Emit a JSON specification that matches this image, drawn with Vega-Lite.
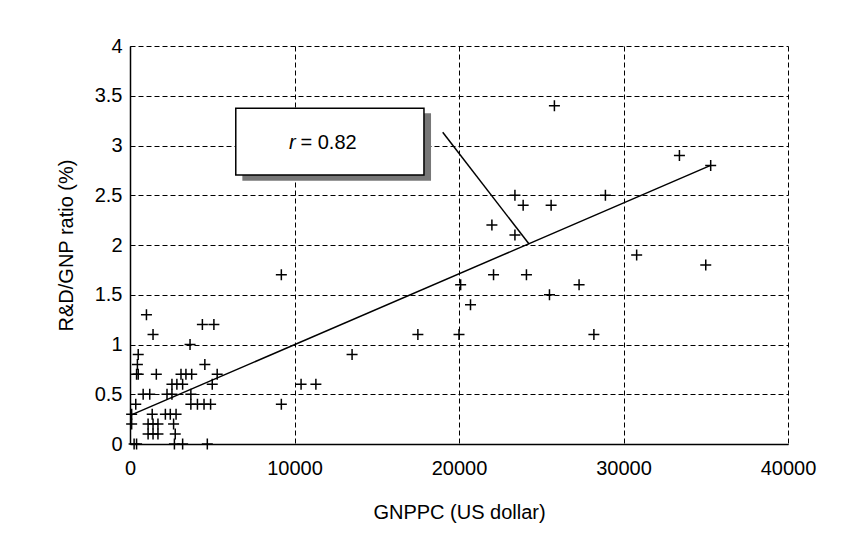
{
  "$schema": "https://vega.github.io/schema/vega-lite/v6.json",
  "width": 658,
  "height": 398,
  "autosize": "none",
  "padding": {"left": 130, "top": 46, "right": 62, "bottom": 116},
  "background": "white",
  "config": {
    "view": {"stroke": null},
    "font": "Liberation Sans",
    "axis": {
      "grid": true,
      "gridColor": "#000",
      "gridDash": [5, 3],
      "gridWidth": 1,
      "gridOpacity": 1,
      "domainColor": "#000",
      "domainWidth": 1.5,
      "ticks": false,
      "labelFlush": false,
      "labelBound": false,
      "labelOverlap": false,
      "labelFontSize": 20,
      "labelColor": "#000",
      "labelFont": "Liberation Sans",
      "titleFontSize": 20,
      "titleFontWeight": "normal",
      "titleColor": "#000",
      "titleFont": "Liberation Sans"
    }
  },
  "datasets": {
    "points": [
      {"gnppc": 25800, "ratio": 3.4}, {"gnppc": 33400, "ratio": 2.9}, {"gnppc": 35300, "ratio": 2.8},
      {"gnppc": 23400, "ratio": 2.5}, {"gnppc": 28900, "ratio": 2.5}, {"gnppc": 23900, "ratio": 2.4},
      {"gnppc": 25600, "ratio": 2.4}, {"gnppc": 22000, "ratio": 2.2}, {"gnppc": 23400, "ratio": 2.1},
      {"gnppc": 30800, "ratio": 1.9}, {"gnppc": 35000, "ratio": 1.8}, {"gnppc": 22100, "ratio": 1.7},
      {"gnppc": 24100, "ratio": 1.7}, {"gnppc": 20100, "ratio": 1.6}, {"gnppc": 27300, "ratio": 1.6},
      {"gnppc": 25500, "ratio": 1.5}, {"gnppc": 20700, "ratio": 1.4}, {"gnppc": 20000, "ratio": 1.1},
      {"gnppc": 28200, "ratio": 1.1}, {"gnppc": 17500, "ratio": 1.1}, {"gnppc": 9200, "ratio": 1.7},
      {"gnppc": 13500, "ratio": 0.9}, {"gnppc": 10400, "ratio": 0.6}, {"gnppc": 11300, "ratio": 0.6},
      {"gnppc": 9200, "ratio": 0.4},
      {"gnppc": 1000, "ratio": 1.3}, {"gnppc": 1400, "ratio": 1.1}, {"gnppc": 4400, "ratio": 1.2},
      {"gnppc": 5100, "ratio": 1.2}, {"gnppc": 3650, "ratio": 1.0}, {"gnppc": 500, "ratio": 0.9},
      {"gnppc": 450, "ratio": 0.8}, {"gnppc": 4550, "ratio": 0.8}, {"gnppc": 400, "ratio": 0.7},
      {"gnppc": 500, "ratio": 0.7}, {"gnppc": 1600, "ratio": 0.7}, {"gnppc": 3100, "ratio": 0.7},
      {"gnppc": 3400, "ratio": 0.7}, {"gnppc": 3750, "ratio": 0.7}, {"gnppc": 5300, "ratio": 0.7},
      {"gnppc": 2550, "ratio": 0.6}, {"gnppc": 2850, "ratio": 0.6}, {"gnppc": 3200, "ratio": 0.6},
      {"gnppc": 5000, "ratio": 0.6}, {"gnppc": 800, "ratio": 0.5}, {"gnppc": 1200, "ratio": 0.5},
      {"gnppc": 2250, "ratio": 0.5}, {"gnppc": 2550, "ratio": 0.5}, {"gnppc": 3700, "ratio": 0.5},
      {"gnppc": 350, "ratio": 0.4}, {"gnppc": 3700, "ratio": 0.4}, {"gnppc": 4100, "ratio": 0.4},
      {"gnppc": 4500, "ratio": 0.4}, {"gnppc": 4900, "ratio": 0.4}, {"gnppc": 100, "ratio": 0.3},
      {"gnppc": 1350, "ratio": 0.3}, {"gnppc": 2150, "ratio": 0.3}, {"gnppc": 2450, "ratio": 0.3},
      {"gnppc": 2800, "ratio": 0.3}, {"gnppc": 100, "ratio": 0.2}, {"gnppc": 1100, "ratio": 0.2},
      {"gnppc": 1400, "ratio": 0.2}, {"gnppc": 1700, "ratio": 0.2}, {"gnppc": 2650, "ratio": 0.2},
      {"gnppc": 1100, "ratio": 0.1}, {"gnppc": 1400, "ratio": 0.1}, {"gnppc": 1700, "ratio": 0.1},
      {"gnppc": 2750, "ratio": 0.1}, {"gnppc": 250, "ratio": 0}, {"gnppc": 400, "ratio": 0},
      {"gnppc": 2700, "ratio": 0}, {"gnppc": 3200, "ratio": 0}, {"gnppc": 4700, "ratio": 0}
    ],
    "fit": [{"gnppc": 50, "ratio": 0.29, "gnppc2": 35300, "ratio2": 2.8}],
    "leader": [{"gnppc": 19010, "ratio": 3.133, "gnppc2": 24270, "ratio2": 2.007}],
    "shadow": [{"gnppc": 6830, "ratio": 3.323, "gnppc2": 18300, "ratio2": 2.646}],
    "box": [{"gnppc": 6430, "ratio": 3.374, "gnppc2": 17870, "ratio2": 2.704}],
    "rlabel": [{"gnppc": 9666, "ratio": 3.03, "label": "r"}],
    "vlabel": [{"gnppc": 10365, "ratio": 3.03, "label": "= 0.82"}]
  },
  "encoding": {
    "x": {
      "field": "gnppc",
      "type": "quantitative",
      "scale": {"domain": [0, 40000], "nice": false, "zero": false},
      "axis": {"values": [0, 10000, 20000, 30000, 40000], "format": "d", "title": "GNPPC (US dollar)", "labelPadding": 14, "titlePadding": 24}
    },
    "y": {
      "field": "ratio",
      "type": "quantitative",
      "scale": {"domain": [0, 4], "nice": false, "zero": false},
      "axis": {"values": [0, 0.5, 1, 1.5, 2, 2.5, 3, 3.5, 4], "format": "~g", "title": "R&D/GNP ratio (%)", "labelPadding": 8, "titlePadding": 18}
    }
  },
  "layer": [
    {
      "data": {"name": "shadow"},
      "mark": {"type": "rect", "fill": "#777777", "clip": false},
      "encoding": {"x2": {"field": "gnppc2"}, "y2": {"field": "ratio2"}}
    },
    {
      "data": {"name": "box"},
      "mark": {"type": "rect", "fill": "white", "stroke": "#000", "strokeWidth": 1.5, "clip": false},
      "encoding": {"x2": {"field": "gnppc2"}, "y2": {"field": "ratio2"}}
    },
    {
      "data": {"name": "fit"},
      "mark": {"type": "rule", "stroke": "#000", "strokeWidth": 1.5},
      "encoding": {"x2": {"field": "gnppc2"}, "y2": {"field": "ratio2"}}
    },
    {
      "data": {"name": "leader"},
      "mark": {"type": "rule", "stroke": "#000", "strokeWidth": 1.5},
      "encoding": {"x2": {"field": "gnppc2"}, "y2": {"field": "ratio2"}}
    },
    {
      "data": {"name": "points"},
      "mark": {"type": "point", "shape": "M-1,0H1M0,-1V1", "filled": false, "stroke": "#000", "strokeWidth": 1.5, "size": 121, "opacity": 1, "clip": false}
    },
    {
      "data": {"name": "rlabel"},
      "mark": {"type": "text", "fontSize": 20, "fontStyle": "italic", "align": "left", "baseline": "middle", "color": "#000", "font": "Liberation Sans"},
      "encoding": {"text": {"field": "label"}}
    },
    {
      "data": {"name": "vlabel"},
      "mark": {"type": "text", "fontSize": 20, "align": "left", "baseline": "middle", "color": "#000", "font": "Liberation Sans"},
      "encoding": {"text": {"field": "label"}}
    }
  ]
}
